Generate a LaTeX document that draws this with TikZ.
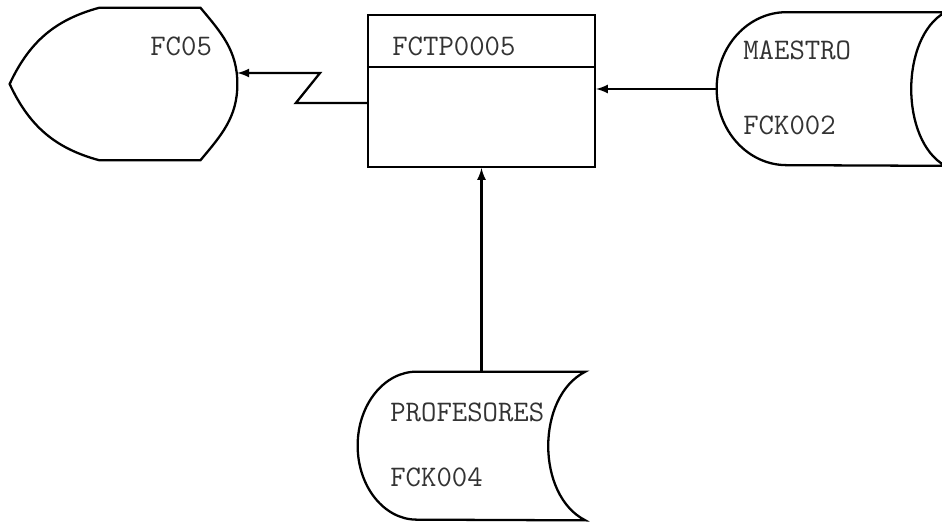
\documentclass[tikz,border=0pt]{standalone}
\usetikzlibrary{arrows,positioning,calc}

\begin{document}
\begin{tikzpicture}[every node/.style = {inner sep = 0pt, text = black!80, font = \ttfamily\fontsize{17}{20}\selectfont},
  shapebox/.style = {minimum width = 4.54cm, minimum height = 3.04cm},
  outline/.style = {line width = 1.3pt, black},
  flow/.style = {-latex, line width = 1.3pt, black}]
\useasboundingbox (0,0) rectangle (18.84,10.44);

% shapes (outlines drawn below)
\node[shapebox] (fc05) at (2.47,8.76) {};
\node[shapebox, draw, line width = 1.3pt] (box) at (9.63,8.62) {};
\node[shapebox, minimum width = 4.56cm, minimum height = 3.06cm] (maestro) at (16.62,8.66) {};
\node[shapebox, minimum height = 2.96cm] (profesores) at (9.43,1.52) {};

% texts
\node[anchor = west] (fc05lbl) at (3.0,9.52) {FC05};
\node[anchor = west] (boxlbl) at (7.84,9.52) {FCTP0005};
\node[anchor = west] (maestrolbl) at (14.86,9.44) {MAESTRO};
\node[anchor = west] (maestrofile) at (14.86,7.94) {FCK002};
\node[anchor = west] (profesoreslbl) at (7.8,2.2) {PROFESORES};
\node[anchor = west] (profesoresfile) at (7.8,0.9) {FCK004};

% display
\draw[outline] ($(fc05.north west)+(1.8,0)$) -- ($(fc05.north east)+(-0.74,0)$)
  to[out=-50,in=90] (fc05.east) to[out=-90,in=50] ($(fc05.south east)+(-0.74,0)$)
  -- ($(fc05.south west)+(1.8,0)$) to[out=165,in=-65] (fc05.west)
  to[out=65,in=195] cycle;

% process divider
\draw[outline] ($(box.north west)+(0,-1.06)$) -- ($(box.north east)+(0,-1.06)$);

% stored data
\draw[outline] (maestro.north east) -- ($(maestro.north west)+(1.4,0)$)
  arc[start angle=90, end angle=270, x radius=1.4, y radius=1.53]
  -- (maestro.south east) .. controls +(-0.91,0.5) and +(-0.91,-0.5) .. cycle;
\draw[outline] (profesores.north east) -- ($(profesores.north west)+(1.18,0)$)
  arc[start angle=90, end angle=270, x radius=1.18, y radius=1.48]
  -- (profesores.south east) .. controls +(-0.99,0.5) and +(-0.99,-0.5) .. cycle;

% connectors
\coordinate (zig) at (6.4,8.98);
\draw[flow] ([yshift=-0.24cm]box.west) -- ++(-1.42,0) -- (zig) -- (zig -| fc05.east);
\draw[flow] (maestro.west) -- (maestro.west -| box.east);
\draw[flow] (box.south |- profesores.north) -- (box.south);

\end{tikzpicture}
\end{document}
